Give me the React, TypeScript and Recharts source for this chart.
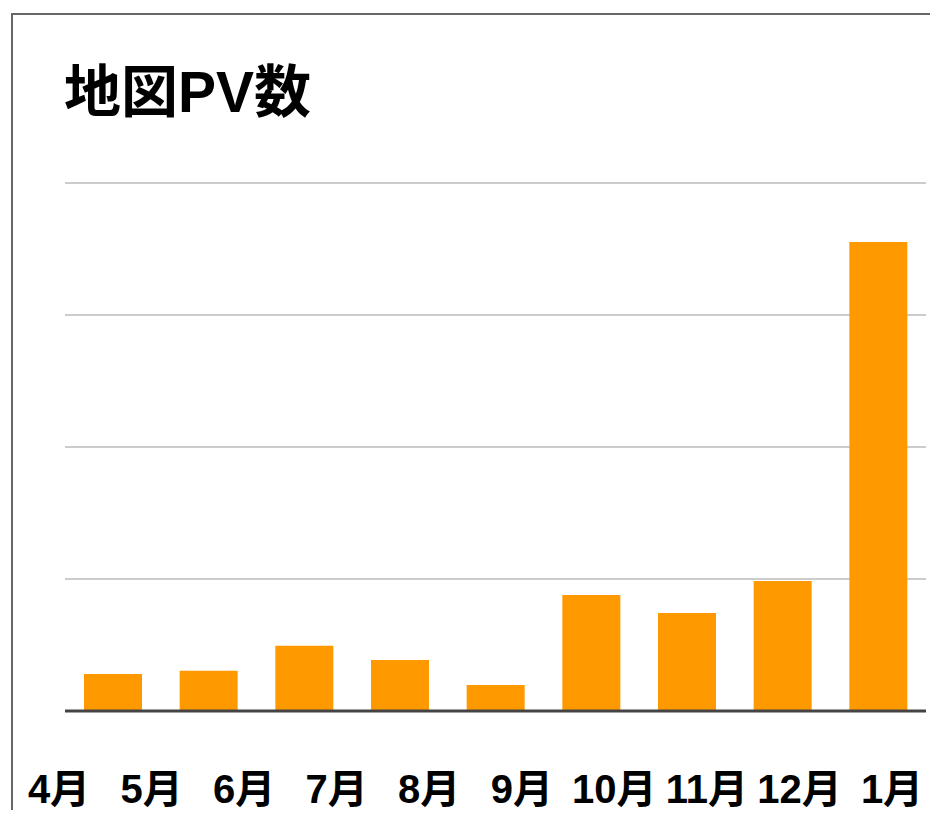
import { Bar, BarChart, CartesianGrid, ReferenceLine, XAxis, YAxis } from "recharts"

const TITLE = "地図PV数"

// labels printed under the chart (10 months)
const MONTH_LABELS = ["4月", "5月", "6月", "7月", "8月", "9月", "10月", "11月", "12月", "1月"]

// the bars themselves (9 of them), one gridline = 1000
const BAR_SLOTS = ["b1", "b2", "b3", "b4", "b5", "b6", "b7", "b8", "b9"]
const PV_VALUES = [280, 305, 495, 386, 197, 879, 742, 985, 3553]

const Y_TICKS = [0, 1000, 2000, 3000, 4000]

const ORANGE = "#ff9900"
const FONT = '"Liberation Sans Narrow", "Liberation Sans", "Noto Sans CJK JP", sans-serif'

const chartData = BAR_SLOTS.map((slot, i) => ({ slot, pos: i, pv: PV_VALUES[i] }))
const labelTicks = MONTH_LABELS.map((_, i) => i)

export default function App() {
  return (
    <div
      style={{
        position: "relative",
        width: 938,
        height: 818,
        margin: -8,
        overflow: "hidden",
        background: "#fff",
        fontFamily: FONT,
      }}
    >
      {/* frame (only top and left edges are visible) */}
      <div
        style={{
          position: "absolute",
          left: 11,
          top: 13,
          right: -10,
          bottom: -10,
          borderTop: "2px solid #666",
          borderLeft: "2px solid #666",
        }}
      />
      <div
        style={{
          position: "absolute",
          left: 64,
          top: 64,
          fontSize: 57,
          lineHeight: 1,
          fontWeight: 700,
          color: "#000",
        }}
      >
        {TITLE}
      </div>
      <div style={{ position: "absolute", left: 0, top: 0 }}>
        <BarChart
          width={938}
          height={818}
          data={chartData}
          margin={{ top: 183, right: 12, left: 65, bottom: 27 }}
          barCategoryGap={0}
        >
          <CartesianGrid vertical={false} stroke="#cccccc" strokeWidth={2} />
          <XAxis dataKey="slot" hide height={0} />
          <XAxis
            xAxisId="labels"
            dataKey="pos"
            type="number"
            domain={[0, MONTH_LABELS.length - 1]}
            allowDataOverflow
            ticks={labelTicks}
            interval={0}
            padding={{ left: -6, right: 34 }}
            tickFormatter={(i: number) => MONTH_LABELS[i] ?? ""}
            axisLine={false}
            tickLine={false}
            tickSize={0}
            tickMargin={64}
            height={80}
            tick={{ fill: "#000", fontSize: 40, fontWeight: 700, fontFamily: FONT }}
          />
          <YAxis hide domain={[0, 4000]} ticks={Y_TICKS} />
          <Bar dataKey="pv" fill={ORANGE} barSize={58} isAnimationActive={false} />
          <ReferenceLine y={0} stroke="#444" strokeWidth={3} />
        </BarChart>
      </div>
    </div>
  )
}
